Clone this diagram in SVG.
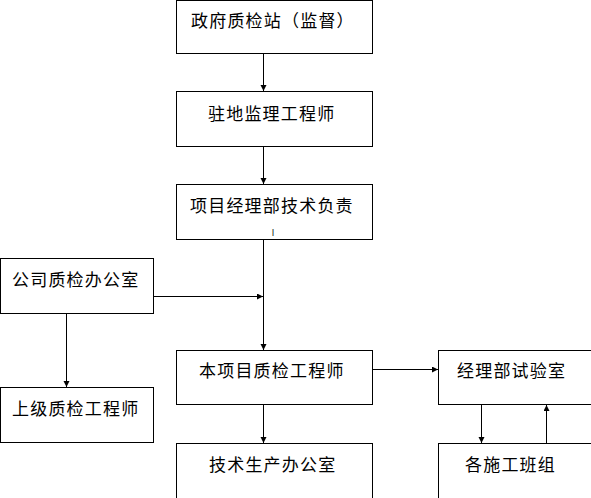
<svg xmlns="http://www.w3.org/2000/svg" width="591" height="498" viewBox="0 0 591 498">
<style>
.box{fill:#fff;stroke:#000;stroke-width:1}
.t{font-family:"Noto Sans CJK SC","Noto Sans",sans-serif;font-size:17px;letter-spacing:1.2px;fill:#000}
.c{stroke:#000;stroke-width:1;fill:none}
</style>
<defs>
<marker id="ah" markerUnits="userSpaceOnUse" markerWidth="7" markerHeight="7" refX="6" refY="3" orient="auto">
<path d="M0,0 L6,3 L0,6 z" fill="#000"/>
</marker>
</defs>
<rect width="591" height="498" fill="#fff"/>
<g id="n1"><rect class="box" x="176.5" y="0.5" width="196" height="53"/><text class="t" x="191" y="27">政府质检站（监督）</text></g>
<g id="n2"><rect class="box" x="176.5" y="91.5" width="196" height="55"/><text class="t" x="208" y="120">驻地监理工程师</text></g>
<g id="n3"><rect class="box" x="176.5" y="184.5" width="196" height="55"/><text class="t" x="190" y="212">项目经理部技术负责</text><text x="272" y="236" font-family="Liberation Sans,sans-serif" font-size="9" fill="#000">l</text></g>
<g id="n4"><rect class="box" x="0.5" y="258.5" width="153" height="55"/><text class="t" x="12" y="286">公司质检办公室</text></g>
<g id="n5"><rect class="box" x="0.5" y="387.5" width="153" height="55"/><text class="t" x="12" y="415">上级质检工程师</text></g>
<g id="n6"><rect class="box" x="176.5" y="350.5" width="196" height="54"/><text class="t" x="199" y="377">本项目质检工程师</text></g>
<g id="n7"><rect class="box" x="438.5" y="350.5" width="160" height="54"/><text class="t" x="457" y="377">经理部试验室</text></g>
<g id="n8"><rect class="box" x="176.5" y="443.5" width="196" height="60"/><text class="t" x="209" y="471">技术生产办公室</text></g>
<g id="n9"><rect class="box" x="438.5" y="443.5" width="160" height="60"/><text class="t" x="465" y="471">各施工班组</text></g>
<g id="connectors">
<line class="c" x1="263.5" y1="54" x2="263.5" y2="91" marker-end="url(#ah)"/>
<line class="c" x1="263.5" y1="147" x2="263.5" y2="184" marker-end="url(#ah)"/>
<line class="c" x1="263.5" y1="240" x2="263.5" y2="350" marker-end="url(#ah)"/>
<line class="c" x1="154" y1="296.5" x2="263" y2="296.5" marker-end="url(#ah)"/>
<line class="c" x1="66.5" y1="314" x2="66.5" y2="387" marker-end="url(#ah)"/>
<line class="c" x1="263.5" y1="405" x2="263.5" y2="443" marker-end="url(#ah)"/>
<line class="c" x1="373" y1="369.5" x2="438" y2="369.5" marker-end="url(#ah)"/>
<line class="c" x1="481.5" y1="405" x2="481.5" y2="443" marker-end="url(#ah)"/>
<line class="c" x1="546.5" y1="443" x2="546.5" y2="405" marker-end="url(#ah)"/>
</g>
</svg>
